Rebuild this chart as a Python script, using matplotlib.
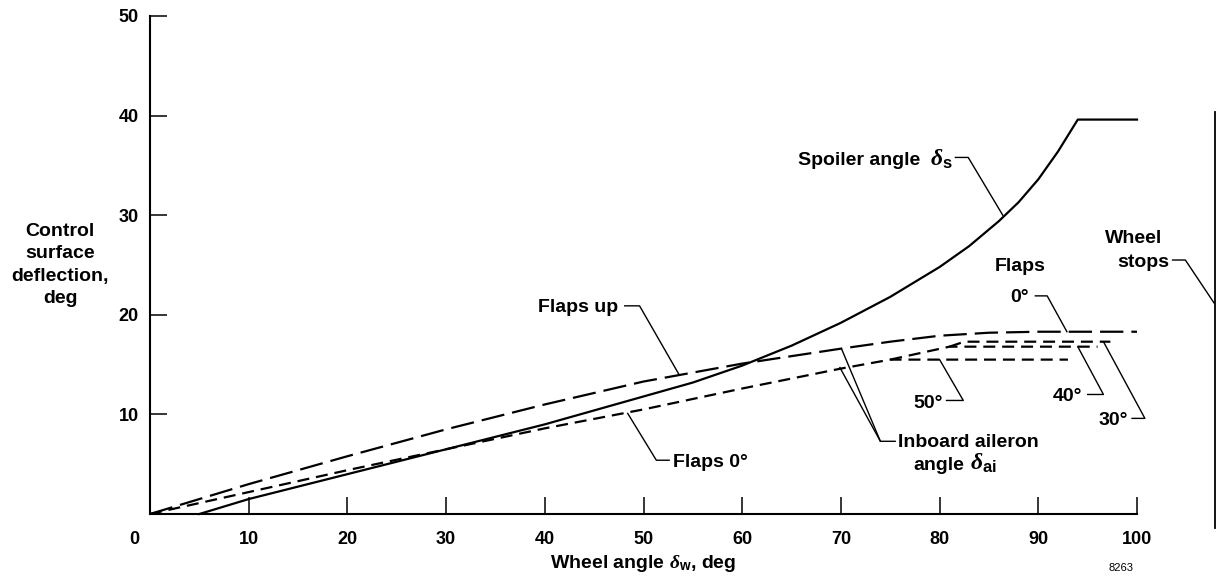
import matplotlib.pyplot as plt

plt.rcParams['font.family'] = ['Liberation Sans', 'DejaVu Sans']
plt.rcParams['font.weight'] = 'bold'
plt.rcParams['mathtext.fontset'] = 'custom'
plt.rcParams['mathtext.rm'] = 'Liberation Sans:bold'
plt.rcParams['mathtext.bf'] = 'Liberation Sans:bold'
plt.rcParams['mathtext.it'] = 'Liberation Serif:italic'

# spoiler angle (solid)
spoiler_x = [5, 10, 20, 30, 40, 50, 55, 60, 65, 70, 75, 80, 83, 86, 88, 90, 92, 94, 100]
spoiler_y = [0, 1.5, 4.0, 6.5, 9.0, 11.8, 13.2, 14.9, 16.9, 19.2, 21.8, 24.8, 26.9, 29.4, 31.3, 33.6, 36.4, 39.6, 39.6]

# inboard aileron, flaps up (long dash)
flaps_up_x = [0, 10, 20, 30, 40, 50, 60, 70, 75, 80, 85, 90, 100]
flaps_up_y = [0, 3.0, 5.8, 8.5, 11.0, 13.3, 15.1, 16.6, 17.3, 17.9, 18.2, 18.3, 18.3]

# inboard aileron, flaps down (short dash) - trunk + 50 deg branch
ail50_x = [0, 10, 20, 30, 40, 50, 60, 70, 75, 93]
ail50_y = [0, 2.2, 4.4, 6.5, 8.6, 10.5, 12.6, 14.6, 15.5, 15.5]
ail40_x = [75, 81, 96]
ail40_y = [15.5, 16.8, 16.8]
ail30_x = [81, 82.5, 97.3]
ail30_y = [16.8, 17.3, 17.3]

wheel_stop_x = 107.9
wheel_stop_y = [-1.4, 40.4]

xticks = [10, 20, 30, 40, 50, 60, 70, 80, 90, 100]
yticks = [10, 20, 30, 40, 50]

fig = plt.figure(figsize=(12.17, 5.80), dpi=100)
ax = fig.add_axes([150 / 1217, 66 / 580, 1067 / 1217, 498 / 580])
ax.set_xlim(0, 1067 / 9.87)
ax.set_ylim(0, 50)

lw = 1.6
ax.plot(spoiler_x, spoiler_y, color='black', lw=lw, clip_on=False)
ax.plot(flaps_up_x, flaps_up_y, color='black', lw=lw, ls=(0, (10.5, 3.6)), clip_on=False)
for xs, ys in [(ail50_x, ail50_y), (ail40_x, ail40_y), (ail30_x, ail30_y)]:
    ax.plot(xs, ys, color='black', lw=lw, ls=(0, (5.4, 3.1)), clip_on=False)
ax.plot([wheel_stop_x, wheel_stop_x], wheel_stop_y, color='black', lw=1.3, clip_on=False)

for s in ['top', 'right']:
    ax.spines[s].set_visible(False)
for s in ['left', 'bottom']:
    ax.spines[s].set_linewidth(1.5)
ax.spines['bottom'].set_bounds(0, 100)
ax.spines['left'].set_bounds(0, 50)

ax.set_xticks(xticks)
ax.set_yticks(yticks)
ax.tick_params(axis='both', direction='in', length=12, width=1.1, labelsize=13)
ax.tick_params(axis='x', pad=12)
ax.tick_params(axis='y', pad=8)
ax.annotate('0', xy=(0, 0), xytext=(-8, -12), textcoords='offset points',
            ha='right', va='top', fontsize=13, annotation_clip=False)

# leader lines
leader = dict(color='black', lw=1.0, clip_on=False)
ax.plot([81.6, 82.9, 86.4], [35.8, 35.8, 30.0], **leader)
ax.plot([48.1, 49.6, 53.6], [20.9, 20.9, 14.0], **leader)
ax.plot([52.6, 51.3, 48.4], [5.4, 5.4, 10.1], **leader)
ax.plot([75.5, 74.0, 70.1], [7.3, 7.3, 16.5], **leader)
ax.plot([74.0, 69.9], [7.3, 14.7], **leader)
ax.plot([80.7, 82.4, 80.0], [11.4, 11.4, 15.5], **leader)
ax.plot([95.0, 96.6, 94.0], [12.0, 12.0, 16.8], **leader)
ax.plot([99.5, 100.8, 96.6], [9.6, 9.6, 17.3], **leader)
ax.plot([89.7, 90.9, 92.9], [21.9, 21.9, 18.3], **leader)
ax.plot([103.6, 104.9, 107.8], [25.5, 25.5, 21.2], **leader)

fs = 14
delta = dict(fontsize=17)
ax.text(78.0, 35.0, 'Spoiler angle', ha='right', va='baseline', fontsize=fs)
ax.text(79.0, 35.0, r'$\mathit{\delta}_{\mathbf{s}}$', ha='left', va='baseline', **delta)
ax.text(47.4, 20.3, 'Flaps up', ha='right', va='baseline', fontsize=fs)
ax.text(53.0, 4.7, 'Flaps 0°', ha='left', va='baseline', fontsize=fs)
ax.text(75.8, 6.7, 'Inboard aileron', ha='left', va='baseline', fontsize=fs)
ax.text(77.3, 4.4, 'angle', ha='left', va='baseline', fontsize=fs)
ax.text(83.1, 4.4, r'$\mathit{\delta}_{\mathbf{ai}}$', ha='left', va='baseline', **delta)
ax.text(80.3, 10.6, '50°', ha='right', va='baseline', fontsize=fs)
ax.text(94.5, 11.3, '40°', ha='right', va='baseline', fontsize=fs)
ax.text(99.1, 8.9, '30°', ha='right', va='baseline', fontsize=fs)
ax.text(88.2, 24.4, 'Flaps', ha='center', va='baseline', fontsize=fs)
ax.text(89.0, 21.3, '0°', ha='right', va='baseline', fontsize=fs)
ax.text(102.6, 27.2, 'Wheel', ha='right', va='baseline', fontsize=fs)
ax.text(103.3, 24.8, 'stops', ha='right', va='baseline', fontsize=fs)

ax.text(-9.1, 25.0, 'Control\nsurface\ndeflection,\ndeg', ha='center', va='center',
        multialignment='center', fontsize=fs, linespacing=1.4, clip_on=False)
ax.text(50, -5.4, r'Wheel angle $\mathit{\delta}_{\mathbf{w}}$, deg', ha='center', va='baseline',
        fontsize=fs, clip_on=False)
ax.text(98.4, -5.4, '8263', ha='center', va='center', fontsize=8, fontweight='normal', clip_on=False)

fig.savefig('out.png', dpi=100)
